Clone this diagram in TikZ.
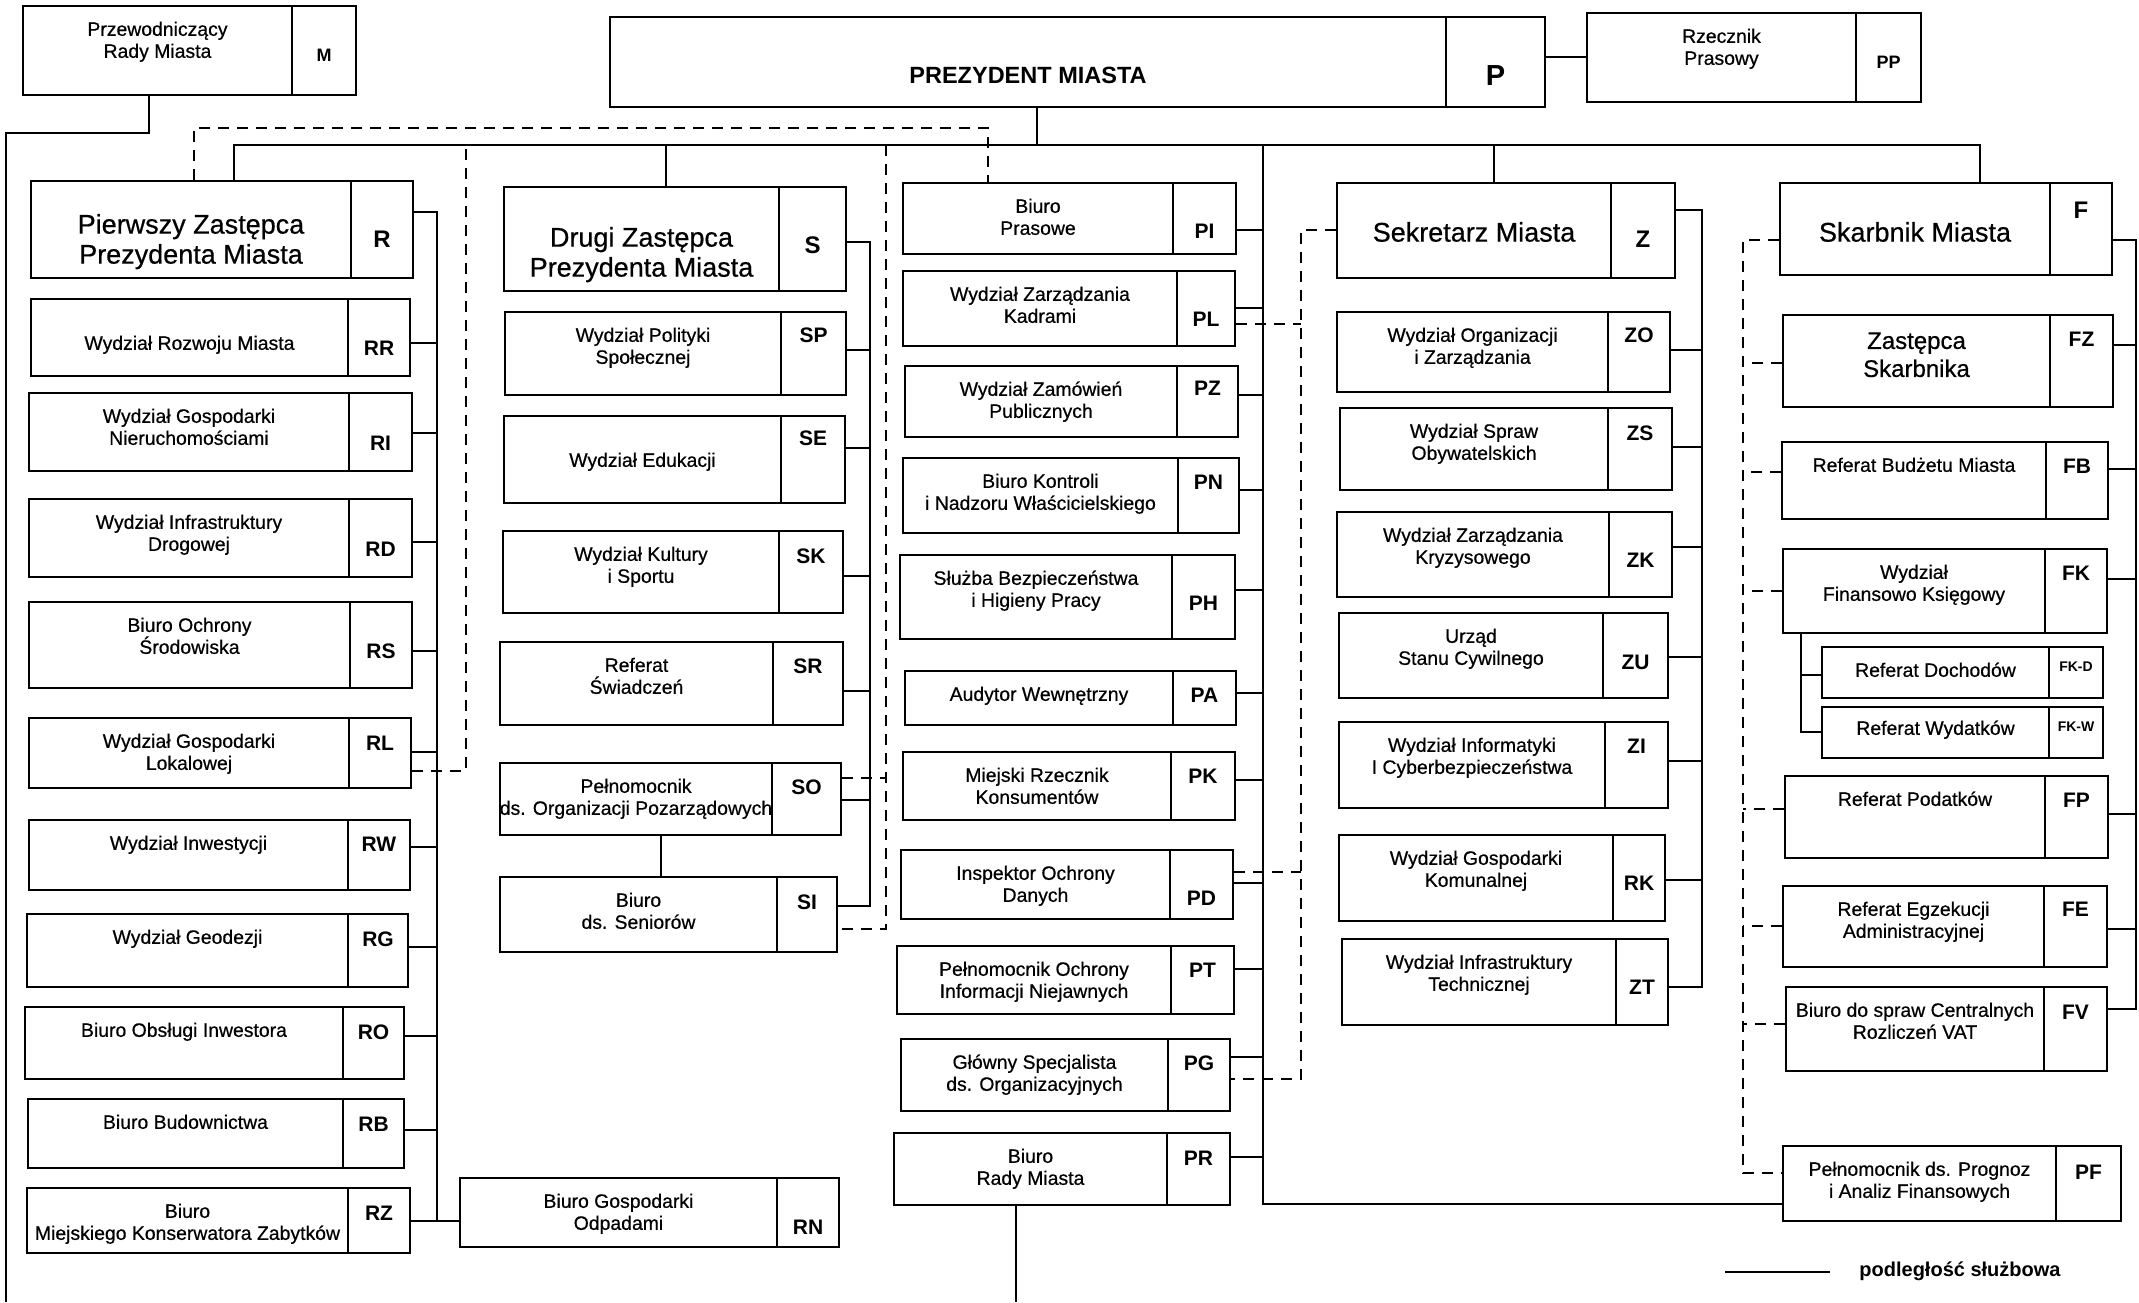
\documentclass[tikz,border=0pt]{standalone}
\usepackage{fontspec}
\setmainfont{Liberation Sans}
\newfontfamily\heavyfont{Liberation Sans}[FakeBold=0.6]
\usetikzlibrary{fit}
% box: name/code, x1, y1, x2, y2, divider, text, code y; [top offset of text]
\newcommand\cityunit[9][12]{%
  \node[box, fit={(#3,#4) (#5,#6)}] (#2) {};
  \draw[box] (#7,#4) -- (#7,#6);
  \node[unittext, anchor=north] (#2-t) at ({(#3+#7)/2},{#4+#1}) {\vphantom{Ś}#8};
  \node[unitcode] (#2-c) at ({(#7+#5)/2},#9) {#2};}
% connector from a box side to a rail at height y
\newcommand\citytap[4][link]{\draw[#1] (#2 |- 0,#4) -- (#3 |- 0,#4);}

\begin{document}
\begin{tikzpicture}[x=0.5pt, y=-0.5pt,
  box/.style={draw, line width=1pt, inner sep=0pt},
  unittext/.style={font=\heavyfont\fontsize{9.7}{11}\selectfont, align=center, inner sep=0pt},
  unitcode/.style={font=\fontsize{10.5}{12}\selectfont\bfseries, inner sep=0pt},
  link/.style={line width=0.9pt},
  duty/.style={line width=1pt, dash pattern=on 5.5pt off 4pt},
  legend/.style={font=\fontsize{10}{12}\selectfont\bfseries, inner sep=0pt}]
\fill[white] (0,0) rectangle (2139,1302);
\useasboundingbox (0,0) rectangle (2139,1302);

% top row
\begin{scope}[unittext/.append style={font=\fontsize{11.75}{14}\selectfont\bfseries},
  unitcode/.append style={font=\fontsize{14.5}{16}\selectfont\bfseries}]
	\cityunit[45]{P}{610}{17}{1545}{107}{1446}{PREZYDENT MIASTA}{76}
\end{scope}
\begin{scope}[unitcode/.append style={font=\fontsize{9}{11}\selectfont\bfseries}]
	\cityunit{M}{23}{6}{356}{95}{292}{Przewodniczący\\Rady Miasta}{55}
	\cityunit{PP}{1587}{13}{1921}{102}{1856}{Rzecznik\\Prasowy}{62}
\end{scope}

% deputies
\begin{scope}[unittext/.append style={font=\heavyfont\fontsize{13.5}{15}\selectfont},
  unitcode/.append style={font=\fontsize{12}{14}\selectfont\bfseries}]
	\cityunit[28]{R}{31}{181}{413}{278}{351}{Pierwszy Zastępca\\Prezydenta Miasta}{239}
	\cityunit[35]{S}{504}{187}{846}{291}{779}{Drugi Zastępca\\Prezydenta Miasta}{245}
	\cityunit[34]{Z}{1337}{183}{1675}{278}{1611}{Sekretarz Miasta}{239}
	\cityunit[34]{F}{1780}{183}{2112}{275}{2050}{Skarbnik Miasta}{210}
\end{scope}
\begin{scope}[unittext/.append style={font=\heavyfont\fontsize{12}{14}\selectfont}]
	\cityunit{FZ}{1783}{315}{2113}{407}{2050}{Zastępca\\Skarbnika}{339}
\end{scope}

% Pierwszy Zastepca
\cityunit[33]{RR}{31}{299}{410}{376}{348}{Wydział Rozwoju Miasta}{348}
\cityunit{RI}{29}{393}{412}{471}{349}{Wydział Gospodarki\\Nieruchomościami}{443}
\cityunit{RD}{29}{499}{412}{577}{349}{Wydział Infrastruktury\\Drogowej}{549}
\cityunit{RS}{29}{602}{412}{688}{350}{Biuro Ochrony\\Środowiska}{651}
\cityunit{RL}{29}{718}{411}{788}{349}{Wydział Gospodarki\\Lokalowej}{743}
\cityunit{RW}{29}{820}{410}{890}{348}{Wydział Inwestycji}{844}
\cityunit{RG}{27}{914}{408}{987}{348}{Wydział Geodezji}{939}
\cityunit{RO}{25}{1007}{404}{1079}{343}{Biuro Obsługi Inwestora}{1032}
\cityunit{RB}{28}{1099}{404}{1168}{343}{Biuro Budownictwa}{1124}
\cityunit{RZ}{27}{1188}{410}{1253}{348}{Biuro\\Miejskiego Konserwatora Zabytków}{1213}
\cityunit{RN}{460}{1178}{839}{1247}{777}{Biuro Gospodarki\\Odpadami}{1227}

% Drugi Zastepca
\cityunit{SP}{505}{312}{846}{395}{781}{Wydział Polityki\\Społecznej}{335}
\cityunit[33]{SE}{504}{416}{845}{503}{781}{Wydział Edukacji}{438}
\cityunit{SK}{503}{531}{843}{613}{779}{Wydział Kultury\\i Sportu}{556}
\cityunit{SR}{500}{642}{843}{725}{773}{Referat\\Świadczeń}{666}
\cityunit{SO}{500}{763}{841}{835}{772}{Pełnomocnik\\ds. Organizacji Pozarządowych}{787}
\cityunit{SI}{500}{877}{837}{952}{777}{Biuro\\ds. Seniorów}{902}

% Prezydent
\cityunit{PI}{903}{183}{1236}{254}{1173}{Biuro\\Prasowe}{231}
\cityunit{PL}{903}{271}{1235}{346}{1177}{Wydział Zarządzania\\Kadrami}{319}
\cityunit{PZ}{905}{366}{1238}{437}{1177}{Wydział Zamówień\\Publicznych}{388}
\cityunit{PN}{903}{458}{1239}{533}{1178}{Biuro Kontroli\\i Nadzoru Właścicielskiego}{482}
\cityunit{PH}{900}{555}{1235}{639}{1172}{Służba Bezpieczeństwa\\i Higieny Pracy}{603}
\cityunit{PA}{905}{671}{1236}{725}{1173}{Audytor Wewnętrzny}{695}
\cityunit{PK}{903}{752}{1235}{820}{1171}{Miejski Rzecznik\\Konsumentów}{776}
\cityunit{PD}{901}{850}{1233}{919}{1170}{Inspektor Ochrony\\Danych}{898}
\cityunit{PT}{897}{946}{1234}{1014}{1171}{Pełnomocnik Ochrony\\Informacji Niejawnych}{970}
\cityunit{PG}{901}{1039}{1230}{1111}{1168}{Główny Specjalista\\ds. Organizacyjnych}{1063}
\cityunit{PR}{894}{1133}{1230}{1205}{1167}{Biuro\\Rady Miasta}{1158}

% Sekretarz
\cityunit{ZO}{1337}{312}{1670}{392}{1608}{Wydział Organizacji\\i Zarządzania}{335}
\cityunit{ZS}{1340}{408}{1672}{490}{1608}{Wydział Spraw\\Obywatelskich}{433}
\cityunit{ZK}{1337}{512}{1672}{597}{1609}{Wydział Zarządzania\\Kryzysowego}{560}
\cityunit{ZU}{1339}{613}{1668}{698}{1603}{Urząd\\Stanu Cywilnego}{662}
\cityunit{ZI}{1339}{722}{1668}{808}{1605}{Wydział Informatyki\\I Cyberbezpieczeństwa}{746}
\cityunit{RK}{1339}{835}{1665}{921}{1613}{Wydział Gospodarki\\Komunalnej}{883}
\cityunit{ZT}{1342}{939}{1668}{1025}{1616}{Wydział Infrastruktury\\Technicznej}{987}

% Skarbnik
\cityunit{FB}{1782}{442}{2108}{519}{2046}{Referat Budżetu Miasta}{466}
\cityunit{FK}{1783}{549}{2107}{633}{2045}{Wydział\\Finansowo Księgowy}{573}
\begin{scope}[unitcode/.append style={font=\fontsize{7}{8}\selectfont\bfseries}]
	\cityunit{FK-D}{1822}{647}{2103}{698}{2049}{Referat Dochodów}{667}
	\cityunit[10]{FK-W}{1822}{707}{2103}{758}{2049}{Referat Wydatków}{727}
\end{scope}
\cityunit{FP}{1785}{776}{2108}{858}{2045}{Referat Podatków}{800}
\cityunit{FE}{1783}{886}{2107}{967}{2044}{Referat Egzekucji\\Administracyjnej}{909}
\cityunit{FV}{1786}{987}{2107}{1071}{2044}{Biuro do spraw Centralnych\\Rozliczeń VAT}{1012}
\cityunit{PF}{1783}{1146}{2121}{1221}{2056}{Pełnomocnik ds. Prognoz\\i Analiz Finansowych}{1172}

% rails
\coordinate (bar) at (1037,145);
\coordinate (railR) at (437,0);
\coordinate (railS) at (870,0);
\coordinate (railP) at (1263,0);
\coordinate (railZ) at (1702,0);
\coordinate (railF) at (2136,0);
\coordinate (dashR) at (466,0);
\coordinate (dashS) at (886,0);
\coordinate (dashZ) at (1301,0);
\coordinate (dashF) at (1743,0);
\coordinate (subFK) at (1801,0);
\coordinate (Mout) at (6,1302);
\coordinate (PRout) at (1016,1302);

% podleglosc sluzbowa
\draw[link] (M.south -| 149,0) -- (149,133) -- (6,133) -- (Mout);
\draw[link] (P.east |- 0,57) -- (PP.west |- 0,57);
\draw[link] (P.south -| bar) -- (bar);
\draw[link] (R.north -| 234,0) -- (234,145) -- (1980,145) -- (F.north -| 1980,0);
\draw[link] (666,145) -- (S.north -| 666,0);
\draw[link] (1494,145) -- (Z.north -| 1494,0);
\draw[link] (railP |- bar) -- (railP |- 0,1204) -- (PF.west |- 0,1204);
\draw[link] (PR.south -| PRout) -- (PRout);

\draw[link] (R.east |- 0,212) -- (railR |- 0,212) -- (railR |- 0,1221);
\citytap{RR.east}{railR}{343}
\citytap{RI.east}{railR}{433}
\citytap{RD.east}{railR}{542}
\citytap{RS.east}{railR}{651}
\citytap{RL.east}{railR}{752}
\citytap{RW.east}{railR}{847}
\citytap{RG.east}{railR}{947}
\citytap{RO.east}{railR}{1036}
\citytap{RB.east}{railR}{1130}
\draw[link] (RZ.east |- 0,1221) -- (RN.west |- 0,1221);

\draw[link] (S.east |- 0,242) -- (railS |- 0,242) -- (railS |- 0,906) -- (SI.east |- 0,906);
\citytap{SP.east}{railS}{350}
\citytap{SE.east}{railS}{448}
\citytap{SK.east}{railS}{576}
\citytap{SR.east}{railS}{691}
\citytap{SO.east}{railS}{800}
\draw[link] (SO.south -| 661,0) -- (SI.north -| 661,0);

\citytap{PI.east}{railP}{230}
\citytap{PL.east}{railP}{308}
\citytap{PZ.east}{railP}{395}
\citytap{PN.east}{railP}{490}
\citytap{PH.east}{railP}{590}
\citytap{PA.east}{railP}{693}
\citytap{PK.east}{railP}{780}
\citytap{PD.east}{railP}{883}
\citytap{PT.east}{railP}{969}
\citytap{PG.east}{railP}{1057}
\citytap{PR.east}{railP}{1157}

\draw[link] (Z.east |- 0,210) -- (railZ |- 0,210) -- (railZ |- 0,987) -- (ZT.east |- 0,987);
\citytap{ZO.east}{railZ}{350}
\citytap{ZS.east}{railZ}{447}
\citytap{ZK.east}{railZ}{547}
\citytap{ZU.east}{railZ}{657}
\citytap{ZI.east}{railZ}{761}
\citytap{RK.east}{railZ}{880}

\draw[link] (F.east |- 0,240) -- (railF |- 0,240) -- (railF |- 0,1009) -- (FV.east |- 0,1009);
\citytap{FZ.east}{railF}{345}
\citytap{FB.east}{railF}{469}
\citytap{FK.east}{railF}{579}
\citytap{FP.east}{railF}{814}
\citytap{FE.east}{railF}{929}
\draw[link] (FK.south -| subFK) -- (subFK |- 0,732) -- (FK-W.west |- 0,732);
\citytap{FK-D.west}{subFK}{675}

% dashed links
\draw[duty] (R.north -| 194,0) -- (194,128) -- (988,128) -- (PI.north -| 988,0);
\draw[duty] (RL.east |- 0,771) -- (dashR |- 0,771) -- (dashR |- bar);
\draw[duty] (dashS |- bar) -- (dashS |- 0,929) -- (SI.east |- 0,929);
\citytap[duty]{SO.east}{dashS}{778}
\draw[duty] (Z.west |- 0,230) -- (dashZ |- 0,230) -- (dashZ |- 0,1079) -- (PG.east |- 0,1079);
\citytap[duty]{PL.east}{dashZ}{324}
\citytap[duty]{PD.east}{dashZ}{872}
\draw[duty] (F.west |- 0,240) -- (dashF |- 0,240) -- (dashF |- 0,1173) -- (PF.west |- 0,1173);
\citytap[duty]{FZ.west}{dashF}{363}
\citytap[duty]{FB.west}{dashF}{472}
\citytap[duty]{FK.west}{dashF}{591}
\citytap[duty]{FP.west}{dashF}{809}
\citytap[duty]{FE.west}{dashF}{926}
\citytap[duty]{FV.west}{dashF}{1024}

% legend
\coordinate (legA) at (1725,1272);
\coordinate (legB) at (1830,1272);
\draw[link] (legA) -- (legB);
\node[legend, anchor=west] (legtext) at (1859,1271) {podległość służbowa};
\end{tikzpicture}
\end{document}
